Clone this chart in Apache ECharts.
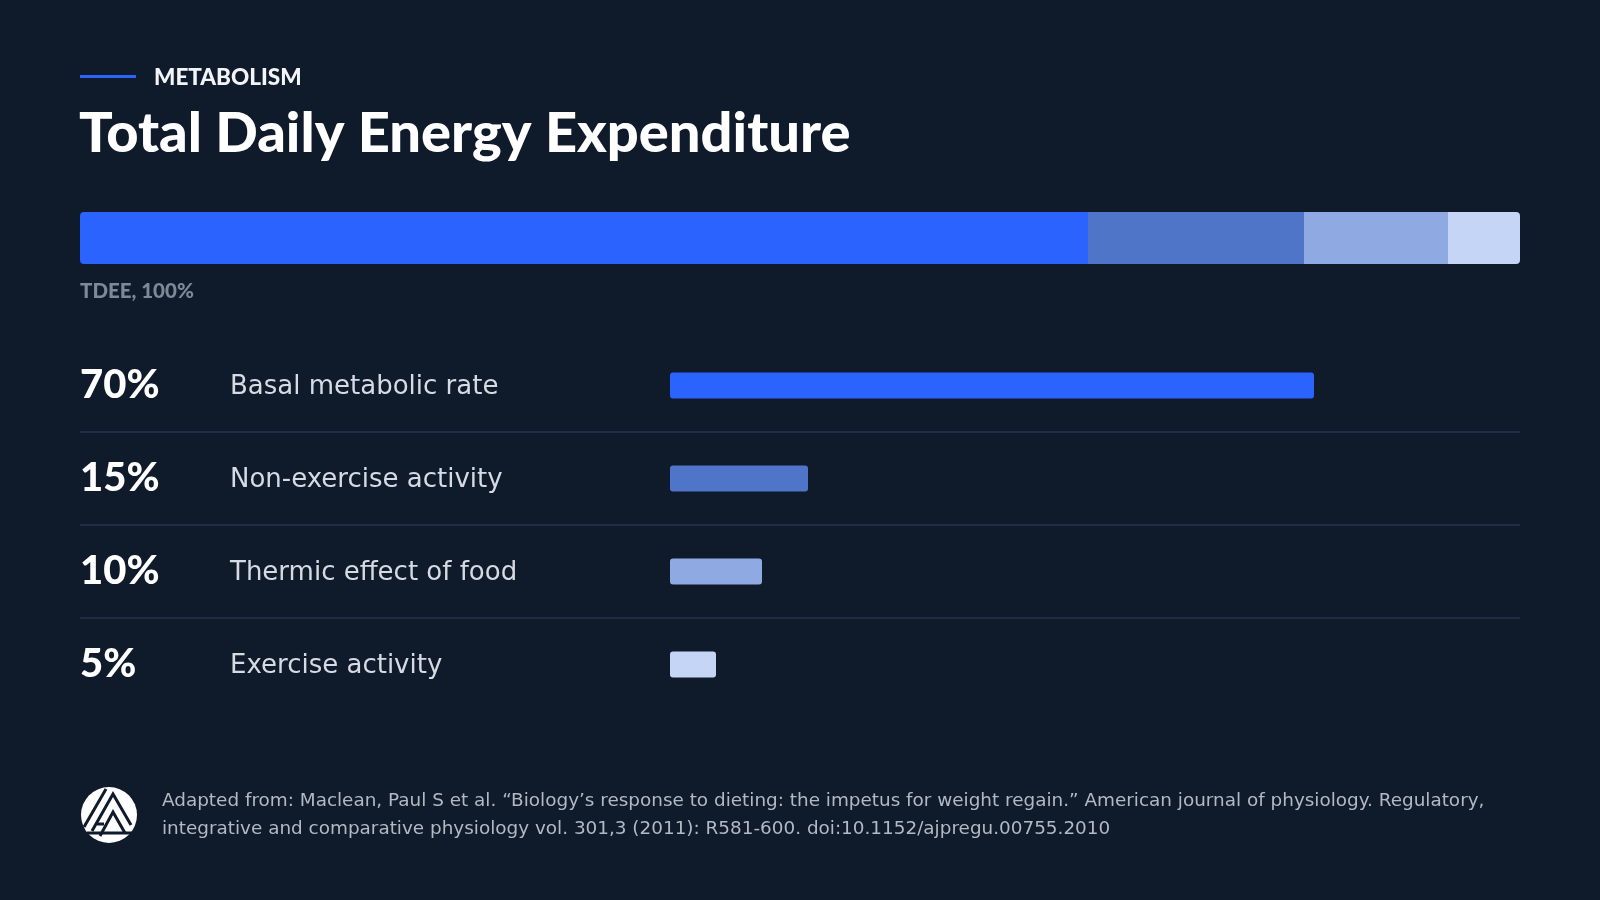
<!DOCTYPE html>
<html>
<head>
<meta charset="utf-8">
<title>Total Daily Energy Expenditure</title>
<script src="https://cdn.jsdelivr.net/npm/echarts@6/dist/echarts.min.js"></script>
<style>
  html, body { margin: 0; padding: 0; background: #0f1a2b; }
  #chart { width: 1600px; height: 900px; }
</style>
</head>
<body>
<div id="chart"></div>
<script>
// data
const categories = ['Basal metabolic rate', 'Non-exercise activity', 'Thermic effect of food', 'Exercise activity']
const shares = [70, 15, 10, 5]
const colors = ['#2b63ff', '#4e75c7', '#8faae3', '#c5d5f5']
const totalLabel = 'TDEE, 100%'
const kicker = 'METABOLISM'
const headline = 'Total Daily Energy Expenditure'
const source = 'Adapted from: Maclean, Paul S et al. \u201cBiology\u2019s response to dieting: the impetus for weight regain.\u201d American journal of physiology. Regulatory,\nintegrative and comparative physiology vol. 301,3 (2011): R581-600. doi:10.1152/ajpregu.00755.2010'

const bg = '#0f1a2b'
const bodyFont = 'DejaVu Sans'
const chart = echarts.init(document.getElementById('chart'))

// stacked top bar, one series per slice
let stackSeries = []
shares.forEach((v, i) => {
  let r = [0, 0, 0, 0]
  if (i == 0) r = [4, 0, 0, 4]
  if (i == shares.length - 1) r = [0, 4, 4, 0]
  stackSeries.push({
    name: categories[i],
    type: 'bar',
    stack: 'tdee',
    xAxisIndex: 0,
    yAxisIndex: 0,
    barWidth: '100%',
    itemStyle: { color: colors[i], borderRadius: r },
    data: [v]
  })
})

let option = {
  backgroundColor: bg,
  animation: false,
  grid: [
    { left: 80, width: 1440, top: 212, height: 52 },   // TDEE bar
    { left: 670, width: 920, top: 339, height: 372 },  // row bars
    { left: 80, width: 1440, top: 339, height: 372 }   // row separators
  ],
  xAxis: [
    { gridIndex: 0, type: 'value', min: 0, max: 100, show: false },
    { gridIndex: 1, type: 'value', min: 0, max: 100, show: false },
    { gridIndex: 2, type: 'value', min: 0, max: 100, show: false }
  ],
  yAxis: [
    { gridIndex: 0, type: 'category', data: ['TDEE'], show: false },
    {
      gridIndex: 1,
      type: 'category',
      inverse: true,
      data: categories,
      axisLine: { show: false },
      axisTick: { show: false },
      splitLine: { show: false },
      axisLabel: {
        align: 'left',
        margin: 590,
        formatter: function (value, idx) {
          return '{pct|' + shares[idx] + '%}{name|' + value + '}'
        },
        rich: {
          pct: { width: 150, fontFamily: 'Lato', fontWeight: 900, fontSize: 40, color: '#ffffff' },
          name: { fontFamily: bodyFont, fontSize: 26, color: '#d6dbe3', padding: [3, 0, 0, 0] }
        }
      }
    },
    {
      gridIndex: 2,
      type: 'category',
      inverse: true,
      data: categories,
      axisLine: { show: false },
      axisTick: { show: false },
      axisLabel: { show: false },
      splitLine: {
        show: true,
        showMinLine: false,
        showMaxLine: false,
        lineStyle: { color: '#29344a', width: 1.5 }
      }
    }
  ],
  series: stackSeries.concat([
    {
      name: 'share',
      type: 'bar',
      xAxisIndex: 1,
      yAxisIndex: 1,
      barWidth: 26,
      data: shares.map((v, i) => ({ value: v, itemStyle: { color: colors[i], borderRadius: 3 } }))
    }
  ]),
  graphic: [
    { type: 'rect', shape: { x: 80, y: 75, width: 56, height: 3 }, style: { fill: '#2b63ff' } },
    { type: 'text', x: 154, y: 78, style: { text: kicker, fontFamily: 'Lato', fontWeight: 900, fontSize: 22.5, fill: '#f2f4f7', verticalAlign: 'middle' } },
    { type: 'text', x: 79, y: 134, style: { text: headline, fontFamily: 'Lato', fontWeight: 900, fontSize: 56, fill: '#ffffff', verticalAlign: 'middle' } },
    { type: 'text', x: 80, y: 291, style: { text: totalLabel, fontFamily: 'Lato', fontWeight: 900, fontSize: 20.5, fill: '#7f8896', verticalAlign: 'middle' } },
    // logo
    {
      type: 'group', x: 109, y: 815,
      children: [
        { type: 'circle', shape: { cx: 0, cy: 0, r: 28 }, style: { fill: '#ffffff' } },
        { type: 'polyline', shape: { points: [[-25, 12], [-3, -26]] }, style: { stroke: bg, lineWidth: 3, fill: null } },
        { type: 'polyline', shape: { points: [[-17, 16], [4, -21], [22, 10]] }, style: { stroke: bg, lineWidth: 3, fill: null } },
        { type: 'polyline', shape: { points: [[-9, 21], [4, -3], [16, 18]] }, style: { stroke: bg, lineWidth: 3, fill: null } },
        { type: 'polyline', shape: { points: [[-22, 18], [24, 18]] }, style: { stroke: bg, lineWidth: 3, fill: null } },
        { type: 'polyline', shape: { points: [[-12, 9], [-5, 9]] }, style: { stroke: bg, lineWidth: 3, fill: null } }
      ]
    },
    { type: 'text', x: 162, y: 815, style: { text: source, fontFamily: bodyFont, fontSize: 18.4, lineHeight: 28, fill: '#b3b9c3', verticalAlign: 'middle' } }
  ]
}
chart.setOption(option)
</script>
</body>
</html>
